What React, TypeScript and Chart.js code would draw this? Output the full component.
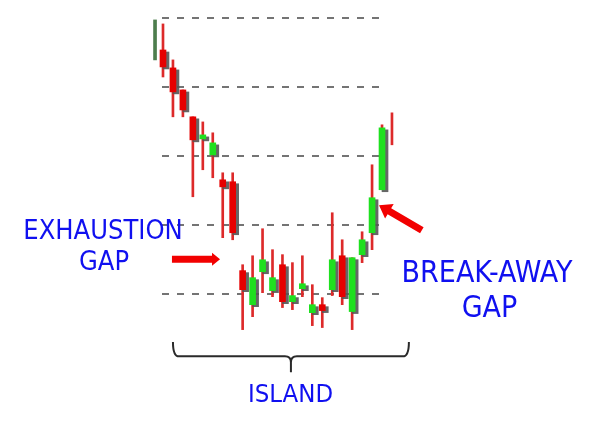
import React, { useEffect, useRef } from "react";
import { Chart, registerables } from "chart.js";

Chart.register(...registerables);

// ---- data (price units, one candle per session) ----
const sessions = [0, 1, 2, 3, 4, 5, 6, 7, 8, 9, 10, 11, 12, 13, 14, 15, 16, 17, 18, 19, 20, 21, 22, 23, 24];
const opens = [96.96, 97.68, 96.38, 94.78, 92.83, 91.23, 90.07, 88.26, 88.12, 81.67, 79.2, 81.59, 80.22, 82.1, 79.42, 80.36, 78.62, 79.2, 80.29, 82.75, 78.7, 82.83, 84.42, 87.54, null];
const closes = [99.86, 96.45, 94.64, 93.33, 91.16, 91.52, 90.94, 87.75, 84.42, 80.29, 81.16, 82.46, 81.16, 79.42, 79.86, 80.72, 79.2, 78.77, 82.46, 79.78, 82.61, 83.91, 86.96, 92.03, null];
const highs = [99.86, 99.57, 96.96, 94.78, 92.83, 92.46, 91.67, 88.77, 88.77, 82.1, 82.75, 84.71, 83.19, 82.83, 82.25, 82.75, 80.65, 79.71, 85.87, 83.91, 82.61, 84.49, 89.35, 92.25, 93.12];
const lows = [96.96, 95.72, 92.83, 92.83, 87.03, 88.99, 88.41, 84.06, 83.91, 77.39, 78.33, 80.07, 79.78, 78.99, 78.84, 79.78, 77.68, 77.54, 79.86, 79.2, 77.39, 82.25, 83.19, 87.54, 90.8];
const gridLevels = [100, 95, 90, 85, 80];

// annotations in data units (session, price)
const exhaustionArrow = { from: [1.9, 82.5], to: [6.73, 82.5] };
const breakawayArrow = { from: [27.0, 84.6], to: [22.7, 86.42] };
const islandBrace = { from: 2.0, to: 25.7, top: 76.5, line: 75.45, tip: 74.3 };

const RED = "#e60000";
const WICK = "#dd2a2a";
const GREEN = "#1fe01f";
const BLUE = "#1010f0";

function drawArrow(ctx: CanvasRenderingContext2D, x1: number, y1: number, x2: number, y2: number, w: number, hl: number, hw: number) {
  const dx = x2 - x1, dy = y2 - y1;
  const len = Math.hypot(dx, dy);
  const ux = dx / len, uy = dy / len;
  const nx = -uy, ny = ux;
  const bx = x2 - ux * hl, by = y2 - uy * hl;
  ctx.beginPath();
  ctx.moveTo(x1 + nx * w / 2, y1 + ny * w / 2);
  ctx.lineTo(bx + nx * w / 2, by + ny * w / 2);
  ctx.lineTo(bx + nx * hw / 2, by + ny * hw / 2);
  ctx.lineTo(x2, y2);
  ctx.lineTo(bx - nx * hw / 2, by - ny * hw / 2);
  ctx.lineTo(bx - nx * w / 2, by - ny * w / 2);
  ctx.lineTo(x1 - nx * w / 2, y1 - ny * w / 2);
  ctx.closePath();
  ctx.fill();
}

const shadowPlugin = {
  id: "bodyShadow",
  beforeDatasetDraw(chart: any, args: any) {
    if (chart.data.datasets[args.index].label === "bodies") {
      const ctx = chart.ctx;
      ctx.save();
      ctx.shadowColor = "rgba(85,85,85,0.9)";
      ctx.shadowOffsetX = 3;
      ctx.shadowOffsetY = 2;
      ctx.shadowBlur = 0;
    }
  },
  afterDatasetDraw(chart: any, args: any) {
    if (chart.data.datasets[args.index].label === "bodies") chart.ctx.restore();
  },
};

const annotatePlugin = {
  id: "annotate",
  afterDatasetsDraw(chart: any) {
    const { ctx } = chart;
    const xs = chart.scales.x, ys = chart.scales.y;
    const px = (v: number) => xs.getPixelForValue(v);
    const py = (v: number) => ys.getPixelForValue(v);
    ctx.save();
    ctx.fillStyle = "#f20000";
    drawArrow(ctx, px(exhaustionArrow.from[0]), py(exhaustionArrow.from[1]), px(exhaustionArrow.to[0]), py(exhaustionArrow.to[1]), 7, 8, 13);
    drawArrow(ctx, px(breakawayArrow.from[0]), py(breakawayArrow.from[1]), px(breakawayArrow.to[0]), py(breakawayArrow.to[1]), 7, 12, 17);
    const L = px(islandBrace.from), R = px(islandBrace.to), C = (L + R) / 2;
    const T = py(islandBrace.top), H = py(islandBrace.line), B = py(islandBrace.tip);
    ctx.strokeStyle = "#2a2a2a";
    ctx.lineWidth = 2;
    ctx.lineJoin = "round";
    ctx.beginPath();
    ctx.moveTo(L, T);
    ctx.quadraticCurveTo(L, H, L + 6, H);
    ctx.lineTo(C - 6, H);
    ctx.quadraticCurveTo(C, H, C, H + 6);
    ctx.lineTo(C, B);
    ctx.moveTo(R, T);
    ctx.quadraticCurveTo(R, H, R - 6, H);
    ctx.lineTo(C + 6, H);
    ctx.quadraticCurveTo(C, H, C, H + 6);
    ctx.stroke();
    ctx.restore();
  },
};

export default function App() {
  const ref = useRef<HTMLCanvasElement>(null);

  useEffect(() => {
    const canvas = ref.current;
    if (!canvas) return;
    const idx = sessions.map((_, i) => i).filter((i) => i > 0);
    const wickData = idx.map((i) => ({ x: sessions[i], y: [lows[i], highs[i]] }));
    const bodyIdx = idx.filter((i) => opens[i] !== null && closes[i] !== null);
    const bodyData = bodyIdx.map((i) => ({ x: sessions[i], y: [opens[i], closes[i]] }));
    const bodyColors = bodyIdx.map((i) => ((closes[i] as number) >= (opens[i] as number) ? GREEN : RED));
    const edgeData = [{ x: sessions[0] + 0.2, y: [lows[0], highs[0]] }];

    const chart = new Chart(canvas, {
      type: "bar",
      data: {
        datasets: [
          {
            label: "bodies",
            data: bodyData as any,
            backgroundColor: bodyColors,
            barThickness: 6,
            grouped: false,
            clip: false as any,
            order: 1,
            borderWidth: 0,
          },
          {
            label: "edge",
            data: edgeData as any,
            backgroundColor: "#4d7d4d",
            barThickness: 3,
            grouped: false,
            clip: false as any,
            order: 1,
            borderWidth: 0,
          },
          {
            label: "wicks",
            data: wickData as any,
            backgroundColor: WICK,
            barThickness: 2,
            grouped: false,
            clip: false as any,
            order: 2,
            borderWidth: 0,
          },
        ],
      },
      options: {
        responsive: false,
        animation: false,
        devicePixelRatio: 1,
        layout: { padding: { left: 162, right: 221, top: 18, bottom: 101 } },
        plugins: { legend: { display: false }, tooltip: { enabled: false } },
        scales: {
          x: { type: "linear", min: 0.9, max: 23.3, offset: false, display: false },
          y: {
            type: "linear",
            min: 77,
            max: 100,
            afterBuildTicks: (scale: any) => {
              scale.ticks = gridLevels.map((v) => ({ value: v }));
            },
            ticks: { display: false },
            grid: { color: "#747474", lineWidth: 2, drawTicks: false },
            border: { display: false, dash: [7, 8] },
          },
        },
      },
      plugins: [shadowPlugin, annotatePlugin],
    } as any);
    return () => chart.destroy();
  }, []);

  const font = '"DejaVu Sans Condensed", "DejaVu Sans", sans-serif';
  const label = (cx: number, top: number, size: number): React.CSSProperties => ({
    position: "absolute",
    left: cx - 110,
    top,
    width: 220,
    textAlign: "center",
    fontFamily: font,
    fontSize: size,
    lineHeight: size + "px",
    color: BLUE,
    whiteSpace: "nowrap",
  });

  return (
    <div style={{ position: "absolute", left: 0, top: 0, width: 606, height: 436, background: "#fff", overflow: "hidden" }}>
      <canvas ref={ref} width={606} height={436} style={{ position: "absolute", left: 0, top: 0, width: 606, height: 436 }} />
      <div style={label(103, 216, 27)}>EXHAUSTION</div>
      <div style={label(104, 247, 27)}>GAP</div>
      <div style={label(487, 256.5, 30)}>BREAK-AWAY</div>
      <div style={label(489.5, 291.5, 30)}>GAP</div>
      <div style={label(290.5, 381, 25.5)}>ISLAND</div>
    </div>
  );
}
